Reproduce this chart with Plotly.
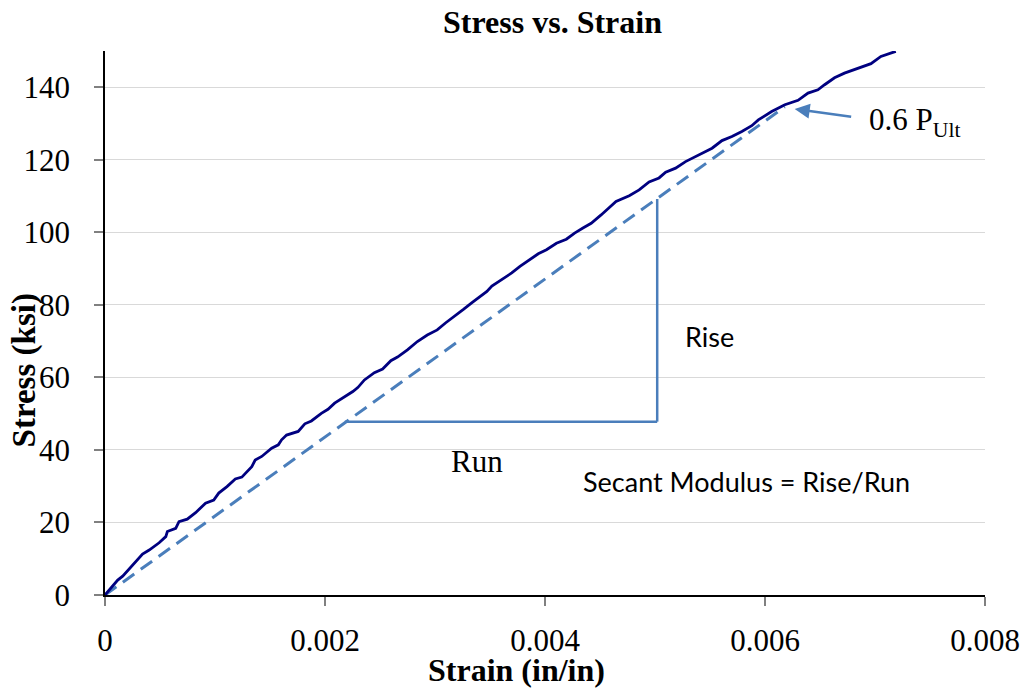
import plotly.graph_objects as go

# Stress-strain curve
strain = [0.0, 0.000056, 0.0001156, 0.0001607, 0.0002366, 0.0002817, 0.0003413, 0.0004018,
          0.0004921, 0.0005526, 0.000567, 0.0006429, 0.0006727, 0.0007476, 0.0008235, 0.0009138,
          0.0009887, 0.0010339, 0.0011088, 0.0011846, 0.0012442, 0.0013345, 0.0013652, 0.0014248,
          0.0015151, 0.0015756, 0.0016054, 0.0016506, 0.0016957, 0.0017562, 0.0018167, 0.0018763,
          0.0019666, 0.0020271, 0.0020876, 0.0021625, 0.0022077, 0.0022528, 0.002298, 0.0023585,
          0.0024488, 0.0025237, 0.0025986, 0.0026591, 0.0027494, 0.0028397, 0.00293, 0.0030203,
          0.0030952, 0.0031855, 0.0032614, 0.0033363, 0.003442, 0.0034718, 0.0035169, 0.0036072,
          0.0036975, 0.0037724, 0.0038627, 0.0039386, 0.0040135, 0.0041038, 0.0041941, 0.004269,
          0.0043449, 0.0044198, 0.0045101, 0.0046158, 0.0046456, 0.0047657, 0.0048559, 0.0049462,
          0.0050365, 0.005097, 0.0051873, 0.0052776, 0.0053679, 0.0054429, 0.0055187, 0.005609,
          0.0056993, 0.0057896, 0.0058799, 0.0059395, 0.0060605, 0.0061806, 0.0063006, 0.006391,
          0.0064813, 0.0065418, 0.006632, 0.0067223, 0.0068578, 0.0069634, 0.0070537, 0.0071891]
stress = [0.0, 2.1, 4.1, 5.2, 7.8, 9.2, 11.3, 12.4,
          14.4, 16.1, 17.5, 18.4, 20.2, 20.9, 22.7, 25.3,
          26.2, 28.1, 29.9, 32.0, 32.5, 35.4, 37.2, 38.2,
          40.5, 41.4, 42.8, 44.1, 44.6, 45.1, 47.2, 48.0,
          50.1, 51.2, 52.9, 54.3, 55.2, 56.1, 57.2, 59.3,
          61.3, 62.3, 64.6, 65.6, 67.6, 69.9, 71.7, 73.1,
          75.0, 77.0, 78.8, 80.6, 83.0, 83.7, 85.2, 86.9,
          88.8, 90.6, 92.4, 94.1, 95.2, 97.0, 98.1, 99.8,
          101.2, 102.5, 104.8, 107.9, 108.5, 110.1, 111.7, 113.9,
          115.0, 116.6, 117.7, 119.5, 120.9, 122.0, 123.2, 125.3,
          126.4, 127.8, 129.4, 131.0, 133.3, 135.2, 136.4, 138.4,
          139.3, 140.7, 142.6, 143.9, 145.3, 146.5, 148.5, 149.9]

# Secant line (origin to 0.6 P_ult)
secant_strain = [0.0, 0.00618]
secant_stress = [0.0, 134.6]

# Rise / run triangle
run_strain = [0.00218, 0.00502]
run_stress = [47.8, 47.8]
rise_strain = [0.00502, 0.00502]
rise_stress = [47.8, 109.2]

# Arrow to 0.6 P_ult point
arrow_head = (0.00627, 134.0)
arrow_tail = (0.006797, 131.8)

y_ticks = [0, 20, 40, 60, 80, 100, 120, 140]
x_ticks = [0, 0.002, 0.004, 0.006, 0.008]
x_ticklabels = ["0", "0.002", "0.004", "0.006", "0.008"]

BLUE = "#4a7ebb"
SERIF = "Liberation Serif, Times New Roman, serif"
SANS = "Lato, Calibri, sans-serif"

fig = go.Figure()
fig.add_trace(go.Scatter(x=secant_strain, y=secant_stress, mode="lines",
                         line=dict(color=BLUE, width=3, dash="14px,8px"), hoverinfo="skip"))
fig.add_trace(go.Scatter(x=run_strain, y=run_stress, mode="lines",
                         line=dict(color=BLUE, width=2.5), hoverinfo="skip"))
fig.add_trace(go.Scatter(x=rise_strain, y=rise_stress, mode="lines",
                         line=dict(color=BLUE, width=2.5), hoverinfo="skip"))
fig.add_trace(go.Scatter(x=strain, y=stress, mode="lines",
                         line=dict(color="#000080", width=2.8)))

fig.update_layout(
    width=1032, height=688,
    margin=dict(l=105, r=41, t=51, b=93),
    paper_bgcolor="white", plot_bgcolor="white",
    showlegend=False,
    font=dict(family=SERIF, size=31, color="black"),
)
fig.update_xaxes(range=[0, 0.008], tickvals=x_ticks, ticktext=x_ticklabels,
                 showline=True, linecolor="black", linewidth=1.5,
                 ticks="outside", ticklen=9, tickcolor="#808080", tickwidth=1.5,
                 ticklabelstandoff=8, showgrid=False, zeroline=False,
                 tickfont=dict(family=SERIF, size=31))
fig.update_yaxes(range=[0, 150], tickvals=y_ticks,
                 showline=True, linecolor="black", linewidth=1.5,
                 ticks="outside", ticklen=9, tickcolor="#808080", tickwidth=1.5,
                 ticklabelstandoff=18, showgrid=True, gridcolor="#d9d9d9", gridwidth=1.2,
                 zeroline=False, tickfont=dict(family=SERIF, size=31))

ann = []
ann.append(dict(text="<b>Stress vs. Strain</b>", xref="paper", yref="paper",
                x=0.509, y=1.053, xanchor="center", yanchor="middle", showarrow=False,
                font=dict(family=SERIF, size=32, color="black")))
ann.append(dict(text="<b>Stress (ksi)</b>", xref="paper", yref="paper", textangle=-90,
                x=-0.0914, y=0.412, xanchor="center", yanchor="middle", showarrow=False,
                font=dict(family=SERIF, size=33, color="black")))
ann.append(dict(text="<b>Strain (in/in)</b>", xref="paper", yref="paper",
                x=0.468, y=-0.138, xanchor="center", yanchor="middle", showarrow=False,
                font=dict(family=SERIF, size=32, color="black")))
ann.append(dict(text="", x=arrow_head[0], y=arrow_head[1], ax=arrow_tail[0], ay=arrow_tail[1],
                xref="x", yref="y", axref="x", ayref="y", showarrow=True,
                arrowhead=2, arrowsize=1.2, arrowwidth=2.5, arrowcolor=BLUE))
ann.append(dict(text="0.6 P<sub>Ult</sub>", x=0.00693, y=130.5, xref="x", yref="y",
                xanchor="left", yanchor="middle", showarrow=False,
                font=dict(family=SERIF, size=31, color="black")))
ann.append(dict(text="Rise", x=0.005259, y=71.2, xref="x", yref="y",
                xanchor="left", yanchor="middle", showarrow=False,
                font=dict(family=SANS, size=27, color="black")))
ann.append(dict(text="Run", x=0.003382, y=36.7, xref="x", yref="y",
                xanchor="center", yanchor="middle", showarrow=False,
                font=dict(family=SERIF, size=31, color="black")))
ann.append(dict(text="Secant Modulus = Rise/Run", x=0.005829, y=31.2, xref="x", yref="y",
                xanchor="center", yanchor="middle", showarrow=False,
                font=dict(family=SANS, size=27, color="black")))
fig.update_layout(annotations=ann)

fig.write_html("out.html")
